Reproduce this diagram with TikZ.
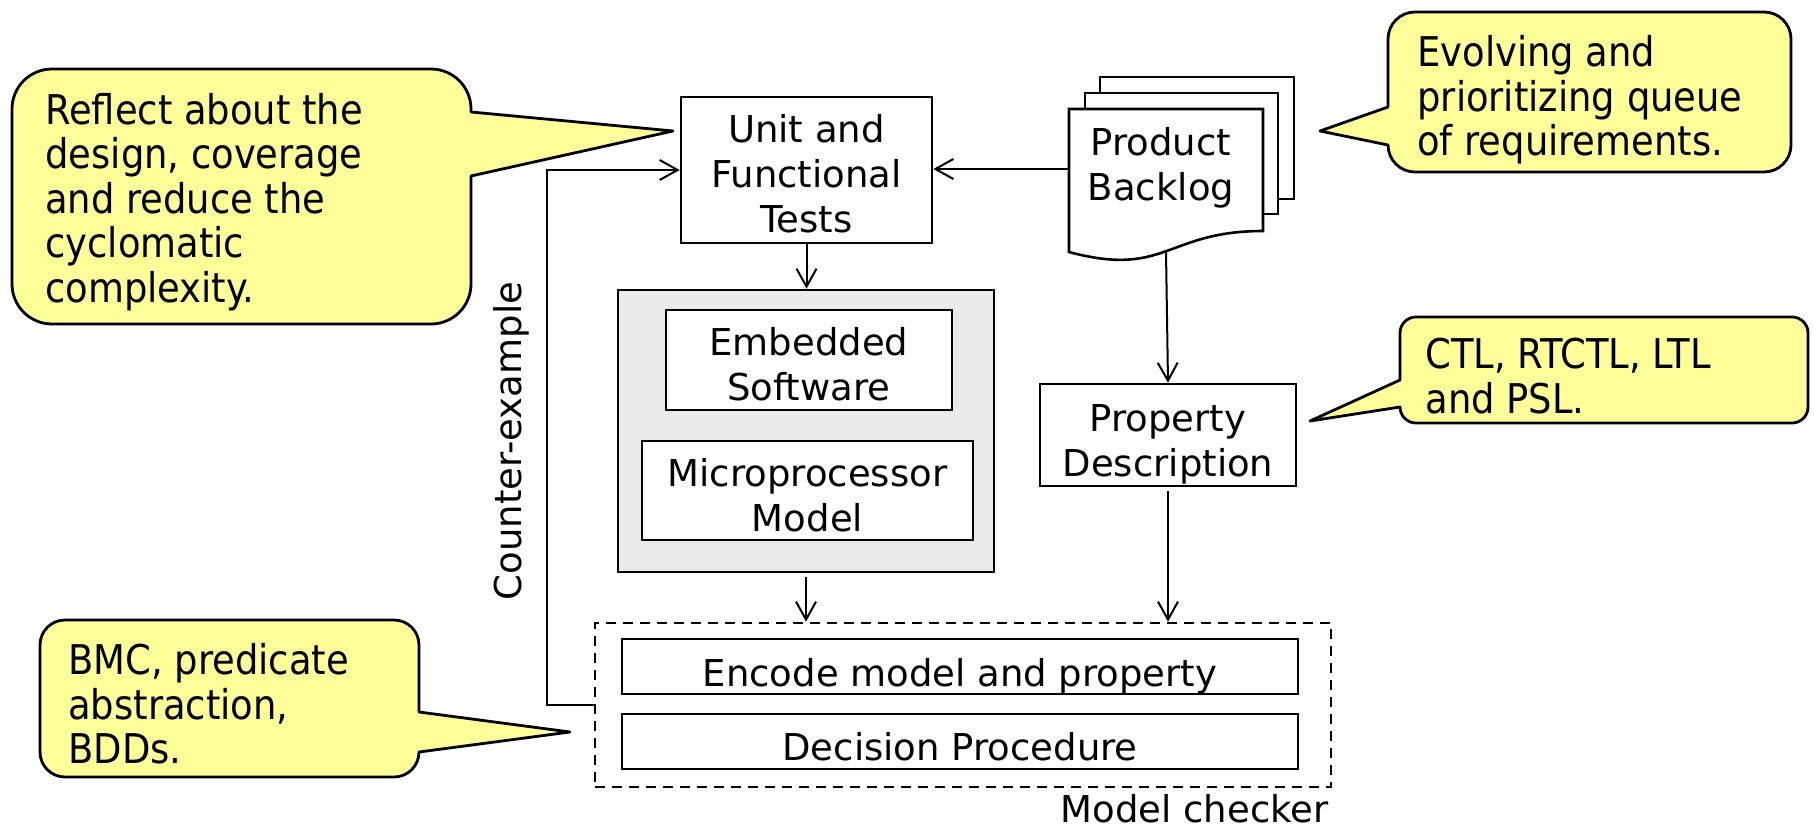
\documentclass[tikz,border=0pt]{standalone}
\usepackage{fontspec}
\setmainfont{DejaVu Sans}
\newfontfamily\condfont{DejaVu Sans Condensed}
\usetikzlibrary{arrows.meta}

\definecolor{noteyellow}{HTML}{FFFF99}
\definecolor{panelgrey}{HTML}{EAEAEA}

\newcommand{\mybfont}{\fontsize{18.5pt}{22.4pt}\selectfont}
\newcommand{\mynfont}{\condfont\fontsize{20.5pt}{22.2pt}\selectfont}

\begin{document}
\begin{tikzpicture}[x=0.5pt, y=-0.5pt,
  box/.style={draw, line width=1.3pt, fill=white, inner sep=0pt},
  btext/.style={font=\mybfont, align=center, inner sep=0pt},
  ntext/.style={font=\mynfont, align=left, anchor=west, inner sep=0pt},
  note/.style={draw, line width=1.4pt, fill=noteyellow, line join=round},
  page/.style={draw, line width=1.3pt, fill=white},
  link/.style={line width=1pt, -{Straight Barb[length=9pt, width=10pt]}},
]
\useasboundingbox (0,0) rectangle (1814,830);
\fill[white] (0,0) rectangle (1814,830);

% ---------- callouts ----------
\draw[note] (52,69) -- (431,69) arc[start angle=270, end angle=360, radius=40]
  -- (471,112) -- (673,131) -- (471,176)
  -- (471,284) arc[start angle=0, end angle=90, radius=40]
  -- (52,324) arc[start angle=90, end angle=180, radius=40]
  -- (12,109) arc[start angle=180, end angle=270, radius=40] -- cycle;
\node[ntext] (n-reflect) at (45,202) {Reflect about the\\design, coverage\\and reduce the\\cyclomatic\\complexity.};

\draw[note] (1415,12) -- (1764,12) arc[start angle=270, end angle=360, radius=27]
  -- (1791,145) arc[start angle=0, end angle=90, radius=27]
  -- (1415,172) arc[start angle=90, end angle=180, radius=27]
  -- (1320,131) -- (1388,107)
  -- (1388,39) arc[start angle=180, end angle=270, radius=27] -- cycle;
\node[ntext] (n-queue) at (1417,100) {Evolving and\\prioritizing queue\\of requirements.};

\draw[note] (1416,317) -- (1792,317) arc[start angle=270, end angle=360, radius=16]
  -- (1808,407) arc[start angle=0, end angle=90, radius=16]
  -- (1416,423) arc[start angle=90, end angle=180, radius=16]
  -- (1310,421) -- (1400,380)
  -- (1400,333) arc[start angle=180, end angle=270, radius=16] -- cycle;
\node[ntext] (n-logic) at (1425,376) {CTL, RTCTL, LTL\\and PSL.};

\draw[note] (65,620) -- (394,620) arc[start angle=270, end angle=360, radius=25]
  -- (419,712) -- (570,732) -- (419,752)
  arc[start angle=0, end angle=90, radius=25]
  -- (65,777) arc[start angle=90, end angle=180, radius=25]
  -- (40,645) arc[start angle=180, end angle=270, radius=25] -- cycle;
\node[ntext] (n-engine) at (68,704) {BMC, predicate\\abstraction,\\BDDs.};

% ---------- test box ----------
\node[box, minimum width=125.5pt, minimum height=73pt] (unit) at (806.5,170) {};
\node[btext] (unit-t) at (806.5,174) {Unit and\\Functional\\Tests};

% ---------- product backlog (stacked documents) ----------
\draw[page] (1100,77) rectangle (1294,199);
\draw[page] (1085,93) rectangle (1278,214);
\draw[page] (1069,109) -- (1263,109) -- (1263,231)
  .. controls (1166,231) and (1166,278) .. (1069,252) -- cycle;
\node[inner sep=0pt, outer sep=0pt, minimum width=97pt, minimum height=60pt] (backlog) at (1166,169) {};
\node[btext] (backlog-t) at (1161,168) {Product\\Backlog};
\coordinate (blbot) at (1166,252);

% ---------- system under verification ----------
\node[box, fill=panelgrey, minimum width=188pt, minimum height=141pt] (sys) at (806,431) {};
\node[box, minimum width=143pt, minimum height=50pt] (emb) at (809,360) {};
\node[btext] (emb-t) at (809,364) {Embedded\\Software};
\node[box, minimum width=165.5pt, minimum height=49.5pt] (cpu) at (807.5,490.5) {};
\node[btext] (cpu-t) at (807.5,495) {Microprocessor\\Model};

% ---------- property ----------
\node[box, minimum width=128pt, minimum height=51pt] (prop) at (1168,435) {};
\node[btext] (prop-t) at (1168,444) {Property\\Description};

% ---------- model checker ----------
\node[draw, line width=1.3pt, dash pattern=on 5pt off 3.5pt, inner sep=0pt,
      minimum width=368pt, minimum height=82pt] (mc) at (963,705) {};
\node[box, minimum width=338pt, minimum height=27.5pt] (enc) at (960,666.5) {};
\node[btext] (enc-t) at (960,676) {Encode model and property};
\node[box, minimum width=338pt, minimum height=27.5pt] (dec) at (960,741.5) {};
\node[btext] (dec-t) at (960,747) {Decision Procedure};
\node[btext, anchor=east] (mc-t) at (1329,809) {Model checker};

\node[btext, rotate=90] (cex-t) at (511,441) {Counter-example};

% ---------- connectors ----------
\coordinate (cexcorner) at (547,705);
\draw[link] (mc.west) -- (cexcorner) |- (unit.west);
\draw[link] (backlog.west) -- (backlog.west -| unit.east);
\draw[link] (unit.south) -- (unit.south |- sys.north);
\draw[link, shorten <=2pt] (sys.south) -- (sys.south |- mc.north);
\draw[link] (blbot) -- (prop.north);
\draw[link, shorten <=2pt] (prop.south) -- (prop.south |- mc.north);
\end{tikzpicture}
\end{document}
